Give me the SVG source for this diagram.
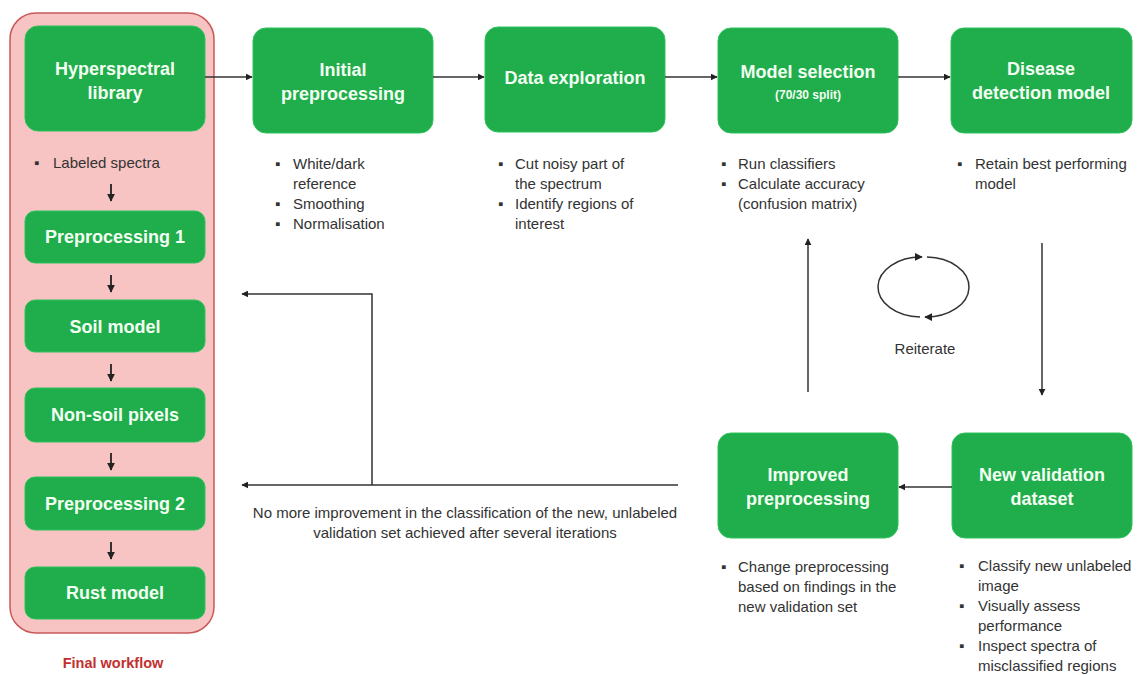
<svg xmlns="http://www.w3.org/2000/svg" width="1140" height="675" viewBox="0 0 1140 675">
<defs>
<marker id="ah" viewBox="0 0 10 10" refX="9" refY="5" markerWidth="7" markerHeight="7" markerUnits="userSpaceOnUse" orient="auto">
<path d="M0,0 L10,5 L0,10 z" fill="#222"/>
</marker>
<marker id="ah2" viewBox="0 0 10 10" refX="9" refY="5" markerWidth="8" markerHeight="8" markerUnits="userSpaceOnUse" orient="auto">
<path d="M0,0 L10,5 L0,10 z" fill="#222"/>
</marker>
<style>
.box{fill:#20ad4b;stroke:#2cc35a;stroke-width:1}
.t{font-family:"Liberation Sans",Arial,sans-serif;font-weight:bold;font-size:18px;fill:#f2fff2;text-anchor:middle}
.ts{font-family:"Liberation Sans",Arial,sans-serif;font-weight:bold;font-size:12px;fill:#f2fff2;text-anchor:middle}
.b{font-family:"Liberation Sans",Arial,sans-serif;font-size:15px;fill:#333}
.c{font-family:"Liberation Sans",Arial,sans-serif;font-size:15px;fill:#333;text-anchor:middle}
.ln{stroke:#333;stroke-width:1.5;fill:none}
.sm{stroke:#222;stroke-width:1.8;fill:none}
</style>
</defs>
<rect width="1140" height="675" fill="#ffffff"/>

<g id="final-workflow">
<rect x="10" y="13" width="204" height="620" rx="26" ry="26" fill="#f8c3c3" stroke="#c85a5a" stroke-width="1.5"/>
<text x="113" y="668" font-family="'Liberation Sans',Arial,sans-serif" font-weight="bold" font-size="14.5" fill="#c2302f" text-anchor="middle">Final workflow</text>
</g>

<g id="hyperspectral-library">
<rect class="box" x="25" y="26" width="180" height="105" rx="13"/>
<text class="t" x="115" y="75">Hyperspectral</text>
<text class="t" x="115" y="99">library</text>
<text class="b" x="34" y="168" fill="#3a2a33">▪</text>
<text class="b" x="53" y="168" fill="#3a2a33">Labeled spectra</text>
</g>
<g id="preprocessing-1">
<rect class="box" x="25" y="211" width="180" height="52" rx="10"/>
<text class="t" x="115" y="243">Preprocessing 1</text>
</g>
<g id="soil-model">
<rect class="box" x="25" y="300" width="180" height="52" rx="10"/>
<text class="t" x="115" y="333">Soil model</text>
</g>
<g id="non-soil-pixels">
<rect class="box" x="25" y="388" width="180" height="54" rx="10"/>
<text class="t" x="115" y="421">Non-soil pixels</text>
</g>
<g id="preprocessing-2">
<rect class="box" x="25" y="477" width="180" height="53" rx="10"/>
<text class="t" x="115" y="510">Preprocessing 2</text>
</g>
<g id="rust-model">
<rect class="box" x="25" y="567" width="180" height="52" rx="10"/>
<text class="t" x="115" y="599">Rust model</text>
</g>

<g id="initial-preprocessing">
<rect class="box" x="253" y="28" width="180" height="105" rx="13"/>
<text class="t" x="343" y="76">Initial</text>
<text class="t" x="343" y="100">preprocessing</text>
<text class="b" x="275" y="169">▪</text><text class="b" x="293" y="169">White/dark</text>
<text class="b" x="293" y="189">reference</text>
<text class="b" x="275" y="209">▪</text><text class="b" x="293" y="209">Smoothing</text>
<text class="b" x="275" y="229">▪</text><text class="b" x="293" y="229">Normalisation</text>
</g>

<g id="data-exploration">
<rect class="box" x="485" y="27" width="180" height="105" rx="13"/>
<text class="t" x="575" y="84">Data exploration</text>
<text class="b" x="498" y="169">▪</text><text class="b" x="515" y="169">Cut noisy part of</text>
<text class="b" x="515" y="189">the spectrum</text>
<text class="b" x="498" y="209">▪</text><text class="b" x="515" y="209">Identify regions of</text>
<text class="b" x="515" y="229">interest</text>
</g>

<g id="model-selection">
<rect class="box" x="718" y="28" width="180" height="105" rx="13"/>
<text class="t" x="808" y="78">Model selection</text>
<text class="ts" x="808" y="99">(70/30 split)</text>
<text class="b" x="721" y="169">▪</text><text class="b" x="738" y="169">Run classifiers</text>
<text class="b" x="721" y="189">▪</text><text class="b" x="738" y="189">Calculate accuracy</text>
<text class="b" x="738" y="209">(confusion matrix)</text>
</g>

<g id="disease-detection-model">
<rect class="box" x="951" y="28" width="181" height="105" rx="13"/>
<text class="t" x="1041" y="75">Disease</text>
<text class="t" x="1041" y="99">detection model</text>
<text class="b" x="957" y="169">▪</text><text class="b" x="975" y="169">Retain best performing</text>
<text class="b" x="975" y="189">model</text>
</g>

<g id="improved-preprocessing">
<rect class="box" x="718" y="433" width="180" height="105" rx="13"/>
<text class="t" x="808" y="481">Improved</text>
<text class="t" x="808" y="505">preprocessing</text>
<text class="b" x="721" y="572">▪</text><text class="b" x="738" y="572">Change preprocessing</text>
<text class="b" x="738" y="592">based on findings in the</text>
<text class="b" x="738" y="612">new validation set</text>
</g>

<g id="new-validation-dataset">
<rect class="box" x="952" y="433" width="180" height="105" rx="13"/>
<text class="t" x="1042" y="481">New validation</text>
<text class="t" x="1042" y="505">dataset</text>
<text class="b" x="959" y="571">▪</text><text class="b" x="978" y="571">Classify new unlabeled</text>
<text class="b" x="978" y="591">image</text>
<text class="b" x="959" y="611">▪</text><text class="b" x="978" y="611">Visually assess</text>
<text class="b" x="978" y="631">performance</text>
<text class="b" x="959" y="651">▪</text><text class="b" x="978" y="651">Inspect spectra of</text>
<text class="b" x="978" y="671">misclassified regions</text>
</g>

<g id="reiterate">
<path class="ln" d="M920,317 A43,30 0 0 1 922,257" marker-end="url(#ah2)"/>
<path class="ln" d="M927,257 A43,30 0 0 1 925,317" marker-end="url(#ah2)"/>
<text class="c" x="925" y="354">Reiterate</text>
</g>

<g id="connectors">
<line class="ln" x1="205" y1="77" x2="252" y2="77" marker-end="url(#ah)"/>
<line class="ln" x1="433" y1="77" x2="484" y2="77" marker-end="url(#ah)"/>
<line class="ln" x1="665" y1="77" x2="717" y2="77" marker-end="url(#ah)"/>
<line class="ln" x1="898" y1="77" x2="950" y2="77" marker-end="url(#ah)"/>
<line class="ln" x1="1042" y1="243" x2="1042" y2="395" marker-end="url(#ah)"/>
<line class="ln" x1="952" y1="487" x2="899" y2="487" marker-end="url(#ah)"/>
<line class="ln" x1="808" y1="392" x2="808" y2="239" marker-end="url(#ah)"/>
<line class="ln" x1="678" y1="485" x2="242" y2="485" marker-end="url(#ah)"/>
<polyline class="ln" points="372,485 372,294 242,294" marker-end="url(#ah)"/>
<line class="sm" x1="111" y1="184" x2="111" y2="201" marker-end="url(#ah2)"/>
<line class="sm" x1="111" y1="275" x2="111" y2="292" marker-end="url(#ah2)"/>
<line class="sm" x1="111" y1="364" x2="111" y2="381" marker-end="url(#ah2)"/>
<line class="sm" x1="111" y1="453" x2="111" y2="470" marker-end="url(#ah2)"/>
<line class="sm" x1="111" y1="542" x2="111" y2="559" marker-end="url(#ah2)"/>
<text class="c" x="465" y="518">No more improvement in the classification of the new, unlabeled</text>
<text class="c" x="465" y="538">validation set achieved after several iterations</text>
</g>
</svg>
